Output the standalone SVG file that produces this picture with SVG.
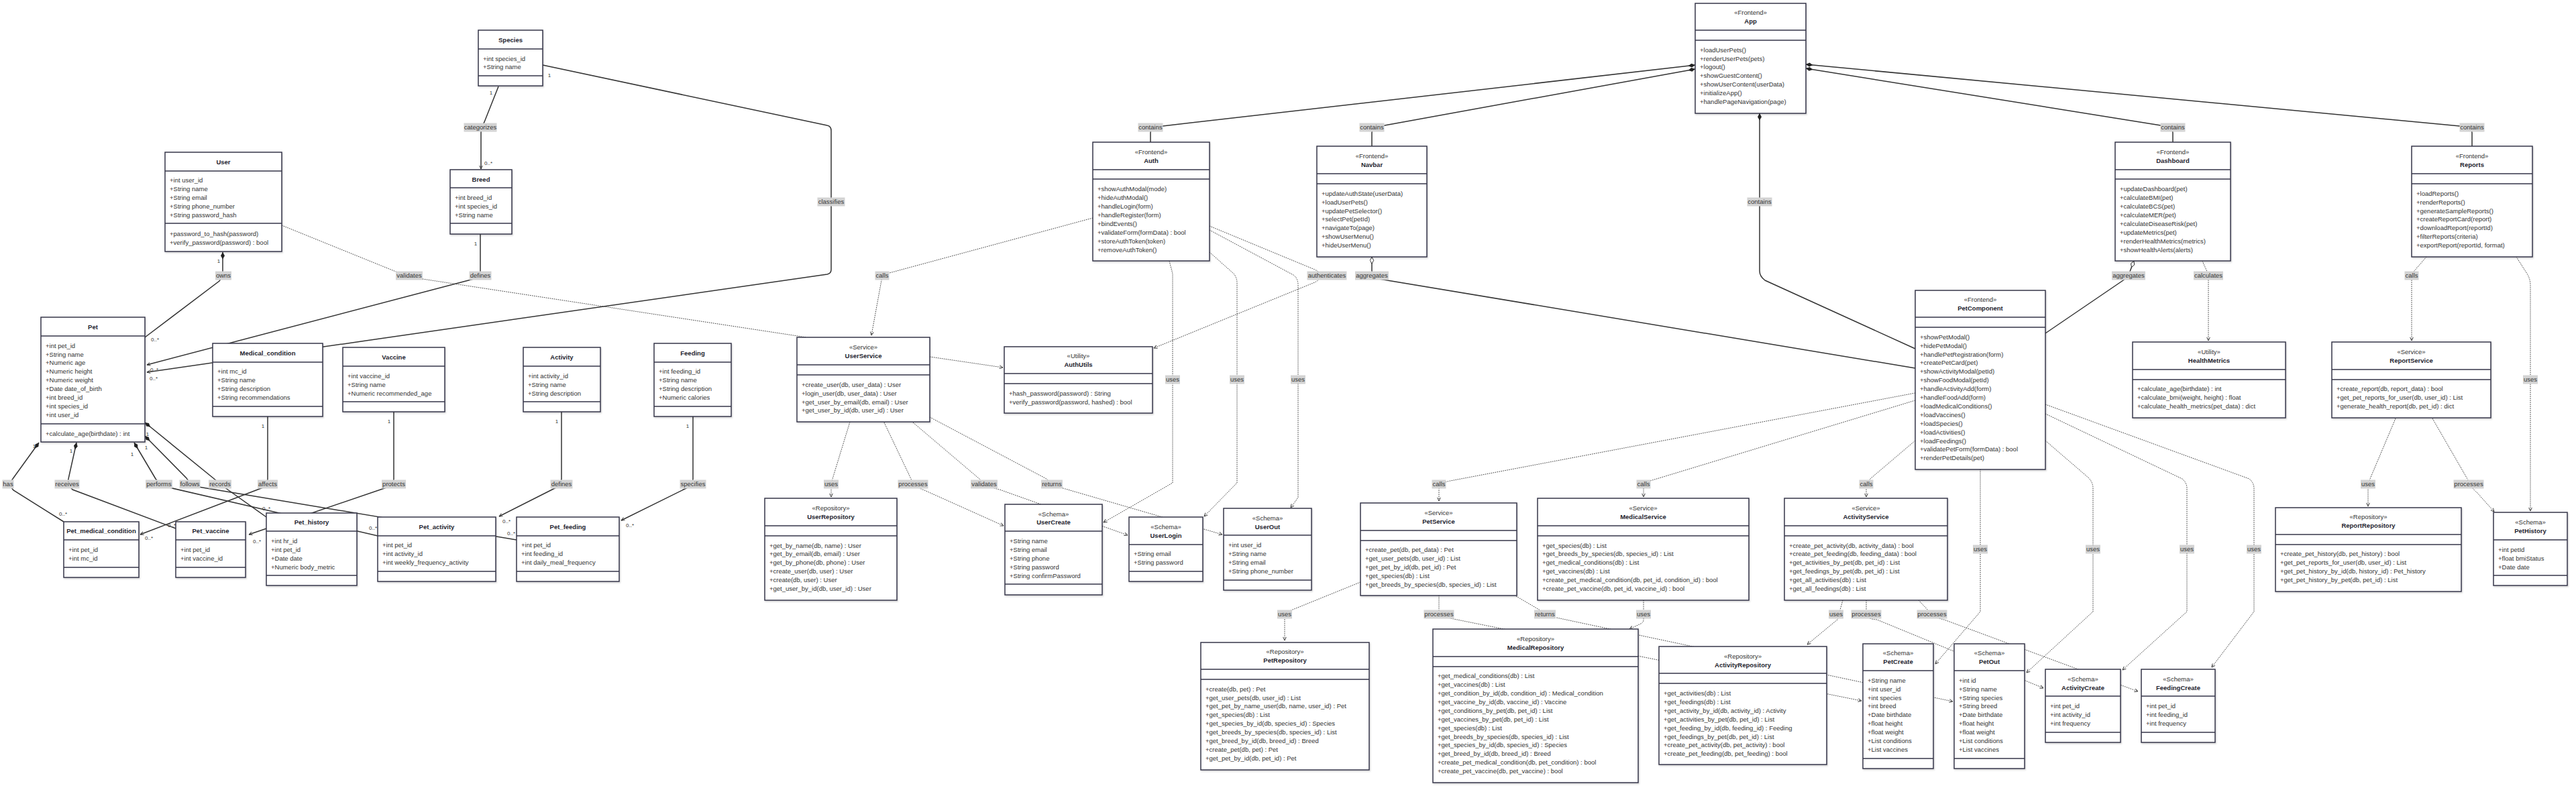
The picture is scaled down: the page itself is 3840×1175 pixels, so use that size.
<svg xmlns="http://www.w3.org/2000/svg" width="3840" height="1175" viewBox="0 0 3840 1175">
<style>
.bg{fill:#fff}
.box{fill:#fff;stroke:#36364a;stroke-width:1.5;filter:url(#sh)}
.dv{fill:none;stroke:#36364a;stroke-width:1.4}
.t{font-family:"Liberation Sans",Arial,sans-serif;font-size:9.5px;fill:#333}
.ti{font-weight:bold;text-anchor:middle;fill:#1e1e2e}
.st{text-anchor:middle}
.ln{fill:none;stroke:#333;stroke-width:1.5}
.dl{fill:none;stroke:#333;stroke-width:1;stroke-dasharray:1.5 1.5}
.lr{fill:#d3d3d3}
.lt{font-family:"Liberation Sans",Arial,sans-serif;font-size:9.5px;fill:#333;text-anchor:middle}
.m{font-family:"Liberation Sans",Arial,sans-serif;font-size:8px;fill:#333;text-anchor:middle}
</style>
<defs>
<filter id="sh" x="-5%" y="-5%" width="110%" height="110%"><feDropShadow dx="1" dy="1.5" stdDeviation="1" flood-color="#000" flood-opacity="0.18"/></filter>
<marker id="arr" viewBox="0 0 10 10" refX="9.5" refY="5" markerWidth="6" markerHeight="6" orient="auto" markerUnits="userSpaceOnUse"><path d="M1,1 L9.5,5 L1,9" fill="none" stroke="#333" stroke-width="1.5"/></marker>
<marker id="dia" viewBox="0 0 12 8" refX="0" refY="4" markerWidth="12" markerHeight="7" orient="auto" markerUnits="userSpaceOnUse"><path d="M0,4 L6,0.6 L12,4 L6,7.4 Z" fill="#222"/></marker>
<marker id="agg" viewBox="0 0 12 8" refX="0" refY="4" markerWidth="12" markerHeight="7" orient="auto" markerUnits="userSpaceOnUse"><path d="M0.5,4 L6,0.8 L11.5,4 L6,7.2 Z" fill="#fff" stroke="#222" stroke-width="1"/></marker>
</defs>
<rect class="bg" x="0" y="0" width="3840" height="1175"/>

<g id="connectors">
<path class="ln" d="M743,129 L722,182 Q717,190 717,198 L717,252" marker-end="url(#arr)"/>
<path class="ln" d="M809,97 L1233,187 Q1239,188 1239,195 L1239,402 Q1239,408 1233,409 L219,555" marker-end="url(#arr)"/>
<path class="ln" d="M716,349 L716,406 Q716,414 706,416 L219,544" marker-end="url(#arr)"/>
<path class="ln" d="M332,376 L332,404 Q332,412 327,419 L216,503" marker-start="url(#dia)"/>
<path class="ln" d="M58,660 L19,714 Q12,722 20,731 L95,778" marker-start="url(#dia)"/>
<path class="ln" d="M114,660 L102,714 Q100,722 108,730 L262,788" marker-start="url(#dia)"/>
<path class="ln" d="M200,660 L232,714 Q237,722 248,726 L563,799" marker-start="url(#dia)"/>
<path class="ln" d="M216,650 L278,713 Q283,722 296,726 L770,805" marker-start="url(#dia)"/>
<path class="ln" d="M216,630 L318,713 Q328,722 338,729 L397,771" marker-start="url(#dia)"/>
<path class="ln" d="M399,621 L399,714 Q399,722 392,727 L209,797" marker-end="url(#arr)"/>
<path class="ln" d="M587,614 L587,714 Q587,722 579,726 L371,797" marker-end="url(#arr)"/>
<path class="ln" d="M837,614 L837,714 Q837,722 829,727 L744,770" marker-end="url(#arr)"/>
<path class="ln" d="M1033,621 L1033,714 Q1033,722 1025,727 L926,776" marker-end="url(#arr)"/>
<path class="ln" d="M2527,97 L1733,188 Q1715,190 1715,198 L1715,212" marker-start="url(#dia)"/>
<path class="ln" d="M2527,103 L2064,187 Q2045,190 2045,198 L2045,218" marker-start="url(#dia)"/>
<path class="ln" d="M2692,102 L3221,187 Q3239,190 3239,198 L3239,212" marker-start="url(#dia)"/>
<path class="ln" d="M2692,96 L3667,188 Q3685,190 3685,198 L3685,218" marker-start="url(#dia)"/>
<path class="ln" d="M2623,169 L2623,404 Q2623,412 2631,418 L2855,520" marker-start="url(#dia)"/>
<path class="ln" d="M2045,383 L2045,404 Q2045,412 2056,416 L2855,549" marker-start="url(#agg)"/>
<path class="ln" d="M3181,389 L3175,405 Q3173,412 3165,418 L3049,497" marker-start="url(#agg)"/>
<path class="dl" d="M420,336 L595,407 Q610,414 630,416 L1202,503"/>
<path class="dl" d="M1629,325 L1322,408 Q1315,411 1314,418 L1299,500" marker-end="url(#arr)"/>
<path class="dl" d="M1803,337 L1960,402 Q1978,411 1960,421 L1720,519" marker-end="url(#arr)"/>
<path class="dl" d="M1803,343 L1928,410 Q1935,415 1935,425 L1935,742 L1924,757" marker-end="url(#arr)"/>
<path class="dl" d="M1803,376 L1839,408 Q1844,414 1844,422 L1844,720 L1795,770" marker-end="url(#arr)"/>
<path class="dl" d="M1743,389 L1748,408 L1748,720 L1645,779" marker-end="url(#arr)"/>
<path class="dl" d="M1386,532 L1495,548" marker-end="url(#arr)"/>
<path class="dl" d="M1267,629 L1241,714 Q1239,722 1239,728 L1239,741" marker-end="url(#arr)"/>
<path class="dl" d="M1318,630 L1358,714 Q1363,726 1378,731 L1496,784" marker-end="url(#arr)"/>
<path class="dl" d="M1361,630 L1460,714 Q1470,726 1490,730 L1681,798" marker-end="url(#arr)"/>
<path class="dl" d="M1386,622 L1560,714 Q1570,724 1588,729 L1822,797" marker-end="url(#arr)"/>
<path class="dl" d="M2855,586 L2162,717 Q2145,720 2145,730 L2145,747" marker-end="url(#arr)"/>
<path class="dl" d="M2855,597 L2463,716 Q2450,720 2450,728 L2450,741" marker-end="url(#arr)"/>
<path class="dl" d="M2855,657 L2789,713 Q2782,720 2782,728 L2782,741" marker-end="url(#arr)"/>
<path class="dl" d="M2952,700 L2952,912 L2885,990" marker-end="url(#arr)"/>
<path class="dl" d="M3049,657 L3114,713 Q3120,720 3120,728 L3120,912 L3021,1003" marker-end="url(#arr)"/>
<path class="dl" d="M3049,617 L3253,714 Q3260,720 3260,728 L3260,912 L3164,999" marker-end="url(#arr)"/>
<path class="dl" d="M3049,603 L3353,714 Q3360,720 3360,728 L3360,912 L3297,995" marker-end="url(#arr)"/>
<path class="dl" d="M3283,389 L3290,405 Q3292,411 3292,418 L3292,508" marker-end="url(#arr)"/>
<path class="dl" d="M3617,383 L3598,405 Q3595,411 3595,418 L3595,508" marker-end="url(#arr)"/>
<path class="dl" d="M3751,383 L3767,408 Q3772,416 3772,426 L3772,762" marker-end="url(#arr)"/>
<path class="dl" d="M3571,624 L3533,714 Q3530,722 3530,730 L3530,755" marker-end="url(#arr)"/>
<path class="dl" d="M3626,624 L3678,714 Q3684,728 3692,734 L3718,763" marker-end="url(#arr)"/>
<path class="dl" d="M2028,868 L1927,909 Q1915,914 1915,922 L1915,955" marker-end="url(#arr)"/>
<path class="dl" d="M2145,888 L2145,910 Q2145,919 2162,922 L2775,1045" marker-end="url(#arr)"/>
<path class="dl" d="M2260,889 L2296,910 Q2304,919 2320,921 L2911,1046" marker-end="url(#arr)"/>
<path class="dl" d="M2450,895 L2450,924 Q2450,928 2446,930 L2429,938" marker-end="url(#arr)"/>
<path class="dl" d="M2747,895 L2739,924 L2694,961" marker-end="url(#arr)"/>
<path class="dl" d="M2782,895 L2782,918 Q2784,923 2798,924 L3046,1026" marker-end="url(#arr)"/>
<path class="dl" d="M2860,895 L2876,912 Q2882,921 2898,924 L3187,1031" marker-end="url(#arr)"/>
</g>

<g id="n-species"><rect class="box" x="713" y="45" width="96" height="83"/><path class="dv" d="M713,73H809M713,113H809"/><text class="t ti" x="761" y="63.3">Species</text><text class="t" x="720" y="91.3">+int species_id</text><text class="t" x="720" y="103.3">+String name</text></g>

<g id="n-breed"><rect class="box" x="671" y="253" width="92" height="96"/><path class="dv" d="M671,280H763M671,333H763"/><text class="t ti" x="717" y="271.3">Breed</text><text class="t" x="678" y="298.3">+int breed_id</text><text class="t" x="678" y="311.3">+int species_id</text><text class="t" x="678" y="324.3">+String name</text></g>

<g id="n-user"><rect class="box" x="246" y="227" width="174" height="148"/><path class="dv" d="M246,255H420M246,333H420"/><text class="t ti" x="333" y="245.3">User</text><text class="t" x="253" y="272.3">+int user_id</text><text class="t" x="253" y="285.3">+String name</text><text class="t" x="253" y="298.3">+String email</text><text class="t" x="253" y="311.3">+String phone_number</text><text class="t" x="253" y="324.3">+String password_hash</text><text class="t" x="253" y="352.3">+password_to_hash(password)</text><text class="t" x="253" y="365.3">+verify_password(password) : bool</text></g>

<g id="n-pet"><rect class="box" x="61" y="473" width="155" height="186"/><path class="dv" d="M61,501H216M61,632H216"/><text class="t ti" x="138.5" y="491.3">Pet</text><text class="t" x="68" y="519.3">+int pet_id</text><text class="t" x="68" y="532.3">+String name</text><text class="t" x="68" y="544.3">+Numeric age</text><text class="t" x="68" y="557.3">+Numeric height</text><text class="t" x="68" y="570.3">+Numeric weight</text><text class="t" x="68" y="583.3">+Date date_of_birth</text><text class="t" x="68" y="596.3">+int breed_id</text><text class="t" x="68" y="609.3">+int species_id</text><text class="t" x="68" y="622.3">+int user_id</text><text class="t" x="68" y="650.3">+calculate_age(birthdate) : int</text></g>

<g id="n-medical-condition"><rect class="box" x="317" y="512" width="164" height="109"/><path class="dv" d="M317,540H481M317,606H481"/><text class="t ti" x="399" y="530.3">Medical_condition</text><text class="t" x="324" y="557.3">+int mc_id</text><text class="t" x="324" y="570.3">+String name</text><text class="t" x="324" y="583.3">+String description</text><text class="t" x="324" y="596.3">+String recommendations</text></g>

<g id="n-vaccine"><rect class="box" x="511" y="518" width="152" height="96"/><path class="dv" d="M511,546H663M511,599H663"/><text class="t ti" x="587" y="536.3">Vaccine</text><text class="t" x="518" y="564.3">+int vaccine_id</text><text class="t" x="518" y="577.3">+String name</text><text class="t" x="518" y="590.3">+Numeric recommended_age</text></g>

<g id="n-activity"><rect class="box" x="780" y="518" width="115" height="96"/><path class="dv" d="M780,546H895M780,599H895"/><text class="t ti" x="837.5" y="536.3">Activity</text><text class="t" x="787" y="564.3">+int activity_id</text><text class="t" x="787" y="577.3">+String name</text><text class="t" x="787" y="590.3">+String description</text></g>

<g id="n-feeding"><rect class="box" x="975" y="512" width="115" height="109"/><path class="dv" d="M975,540H1090M975,606H1090"/><text class="t ti" x="1032.5" y="530.3">Feeding</text><text class="t" x="982" y="557.3">+int feeding_id</text><text class="t" x="982" y="570.3">+String name</text><text class="t" x="982" y="583.3">+String description</text><text class="t" x="982" y="596.3">+Numeric calories</text></g>

<g id="n-pet-medical-condition"><rect class="box" x="95" y="778" width="112" height="83"/><path class="dv" d="M95,805H207M95,846H207"/><text class="t ti" x="151" y="795.3">Pet_medical_condition</text><text class="t" x="102" y="823.3">+int pet_id</text><text class="t" x="102" y="836.3">+int mc_id</text></g>

<g id="n-pet-vaccine"><rect class="box" x="262" y="778" width="104" height="83"/><path class="dv" d="M262,805H366M262,846H366"/><text class="t ti" x="314" y="795.3">Pet_vaccine</text><text class="t" x="269" y="823.3">+int pet_id</text><text class="t" x="269" y="836.3">+int vaccine_id</text></g>

<g id="n-pet-history"><rect class="box" x="397" y="765" width="135" height="108"/><path class="dv" d="M397,792H532M397,858H532"/><text class="t ti" x="464.5" y="782.3">Pet_history</text><text class="t" x="404" y="810.3">+int hr_id</text><text class="t" x="404" y="823.3">+int pet_id</text><text class="t" x="404" y="836.3">+Date date</text><text class="t" x="404" y="849.3">+Numeric body_metric</text></g>

<g id="n-pet-activity"><rect class="box" x="563" y="771" width="176" height="96"/><path class="dv" d="M563,799H739M563,852H739"/><text class="t ti" x="651" y="789.3">Pet_activity</text><text class="t" x="570" y="816.3">+int pet_id</text><text class="t" x="570" y="829.3">+int activity_id</text><text class="t" x="570" y="842.3">+int weekly_frequency_activity</text></g>

<g id="n-pet-feeding"><rect class="box" x="770" y="771" width="153" height="96"/><path class="dv" d="M770,799H923M770,852H923"/><text class="t ti" x="846.5" y="789.3">Pet_feeding</text><text class="t" x="777" y="816.3">+int pet_id</text><text class="t" x="777" y="829.3">+int feeding_id</text><text class="t" x="777" y="842.3">+int daily_meal_frequency</text></g>

<g id="n-app"><rect class="box" x="2527" y="5" width="165" height="164"/><path class="dv" d="M2527,45H2692M2527,60H2692"/><text class="t st" x="2609.5" y="22.3">«Frontend»</text><text class="t ti" x="2609.5" y="35.3">App</text><text class="t" x="2534" y="78.3">+loadUserPets()</text><text class="t" x="2534" y="91.3">+renderUserPets(pets)</text><text class="t" x="2534" y="103.3">+logout()</text><text class="t" x="2534" y="116.3">+showGuestContent()</text><text class="t" x="2534" y="129.3">+showUserContent(userData)</text><text class="t" x="2534" y="142.3">+initializeApp()</text><text class="t" x="2534" y="155.3">+handlePageNavigation(page)</text></g>

<g id="n-auth"><rect class="box" x="1629" y="212" width="174" height="177"/><path class="dv" d="M1629,253H1803M1629,267H1803"/><text class="t st" x="1716" y="230.3">«Frontend»</text><text class="t ti" x="1716" y="243.3">Auth</text><text class="t" x="1636" y="285.3">+showAuthModal(mode)</text><text class="t" x="1636" y="298.3">+hideAuthModal()</text><text class="t" x="1636" y="311.3">+handleLogin(form)</text><text class="t" x="1636" y="324.3">+handleRegister(form)</text><text class="t" x="1636" y="337.3">+bindEvents()</text><text class="t" x="1636" y="350.3">+validateForm(formData) : bool</text><text class="t" x="1636" y="363.3">+storeAuthToken(token)</text><text class="t" x="1636" y="376.3">+removeAuthToken()</text></g>

<g id="n-navbar"><rect class="box" x="1963" y="218" width="164" height="165"/><path class="dv" d="M1963,259H2127M1963,274H2127"/><text class="t st" x="2045" y="236.3">«Frontend»</text><text class="t ti" x="2045" y="249.3">Navbar</text><text class="t" x="1970" y="292.3">+updateAuthState(userData)</text><text class="t" x="1970" y="305.3">+loadUserPets()</text><text class="t" x="1970" y="318.3">+updatePetSelector()</text><text class="t" x="1970" y="330.3">+selectPet(petId)</text><text class="t" x="1970" y="343.3">+navigateTo(page)</text><text class="t" x="1970" y="356.3">+showUserMenu()</text><text class="t" x="1970" y="369.3">+hideUserMenu()</text></g>

<g id="n-dashboard"><rect class="box" x="3153" y="212" width="172" height="177"/><path class="dv" d="M3153,253H3325M3153,267H3325"/><text class="t st" x="3239" y="230.3">«Frontend»</text><text class="t ti" x="3239" y="243.3">Dashboard</text><text class="t" x="3160" y="285.3">+updateDashboard(pet)</text><text class="t" x="3160" y="298.3">+calculateBMI(pet)</text><text class="t" x="3160" y="311.3">+calculateBCS(pet)</text><text class="t" x="3160" y="324.3">+calculateMER(pet)</text><text class="t" x="3160" y="337.3">+calculateDiseaseRisk(pet)</text><text class="t" x="3160" y="350.3">+updateMetrics(pet)</text><text class="t" x="3160" y="363.3">+renderHealthMetrics(metrics)</text><text class="t" x="3160" y="376.3">+showHealthAlerts(alerts)</text></g>

<g id="n-reports"><rect class="box" x="3595" y="218" width="180" height="165"/><path class="dv" d="M3595,259H3775M3595,274H3775"/><text class="t st" x="3685" y="236.3">«Frontend»</text><text class="t ti" x="3685" y="249.3">Reports</text><text class="t" x="3602" y="292.3">+loadReports()</text><text class="t" x="3602" y="305.3">+renderReports()</text><text class="t" x="3602" y="318.3">+generateSampleReports()</text><text class="t" x="3602" y="330.3">+createReportCard(report)</text><text class="t" x="3602" y="343.3">+downloadReport(reportId)</text><text class="t" x="3602" y="356.3">+filterReports(criteria)</text><text class="t" x="3602" y="369.3">+exportReport(reportId, format)</text></g>

<g id="n-petcomponent"><rect class="box" x="2855" y="433" width="194" height="267"/><path class="dv" d="M2855,473H3049M2855,488H3049"/><text class="t st" x="2952" y="450.3">«Frontend»</text><text class="t ti" x="2952" y="463.3">PetComponent</text><text class="t" x="2862" y="506.3">+showPetModal()</text><text class="t" x="2862" y="519.3">+hidePetModal()</text><text class="t" x="2862" y="532.3">+handlePetRegistration(form)</text><text class="t" x="2862" y="544.3">+createPetCard(pet)</text><text class="t" x="2862" y="557.3">+showActivityModal(petId)</text><text class="t" x="2862" y="570.3">+showFoodModal(petId)</text><text class="t" x="2862" y="583.3">+handleActivityAdd(form)</text><text class="t" x="2862" y="596.3">+handleFoodAdd(form)</text><text class="t" x="2862" y="609.3">+loadMedicalConditions()</text><text class="t" x="2862" y="622.3">+loadVaccines()</text><text class="t" x="2862" y="635.3">+loadSpecies()</text><text class="t" x="2862" y="648.3">+loadActivities()</text><text class="t" x="2862" y="661.3">+loadFeedings()</text><text class="t" x="2862" y="673.3">+validatePetForm(formData) : bool</text><text class="t" x="2862" y="686.3">+renderPetDetails(pet)</text></g>

<g id="n-userservice"><rect class="box" x="1188" y="503" width="198" height="126"/><path class="dv" d="M1188,544H1386M1188,559H1386"/><text class="t st" x="1287" y="521.3">«Service»</text><text class="t ti" x="1287" y="534.3">UserService</text><text class="t" x="1195" y="577.3">+create_user(db, user_data) : User</text><text class="t" x="1195" y="590.3">+login_user(db, user_data) : User</text><text class="t" x="1195" y="603.3">+get_user_by_email(db, email) : User</text><text class="t" x="1195" y="615.3">+get_user_by_id(db, user_id) : User</text></g>

<g id="n-authutils"><rect class="box" x="1497" y="517" width="221" height="99"/><path class="dv" d="M1497,557H1718M1497,572H1718"/><text class="t st" x="1607.5" y="534.3">«Utility»</text><text class="t ti" x="1607.5" y="547.3">AuthUtils</text><text class="t" x="1504" y="590.3">+hash_password(password) : String</text><text class="t" x="1504" y="603.3">+verify_password(password, hashed) : bool</text></g>

<g id="n-userrepository"><rect class="box" x="1140" y="743" width="197" height="152"/><path class="dv" d="M1140,784H1337M1140,799H1337"/><text class="t st" x="1238.5" y="761.3">«Repository»</text><text class="t ti" x="1238.5" y="774.3">UserRepository</text><text class="t" x="1147" y="817.3">+get_by_name(db, name) : User</text><text class="t" x="1147" y="829.3">+get_by_email(db, email) : User</text><text class="t" x="1147" y="842.3">+get_by_phone(db, phone) : User</text><text class="t" x="1147" y="855.3">+create_user(db, user) : User</text><text class="t" x="1147" y="868.3">+create(db, user) : User</text><text class="t" x="1147" y="881.3">+get_user_by_id(db, user_id) : User</text></g>

<g id="n-usercreate"><rect class="box" x="1498" y="752" width="145" height="135"/><path class="dv" d="M1498,792H1643M1498,871H1643"/><text class="t st" x="1570.5" y="770.3">«Schema»</text><text class="t ti" x="1570.5" y="782.3">UserCreate</text><text class="t" x="1505" y="810.3">+String name</text><text class="t" x="1505" y="823.3">+String email</text><text class="t" x="1505" y="836.3">+String phone</text><text class="t" x="1505" y="849.3">+String password</text><text class="t" x="1505" y="862.3">+String confirmPassword</text></g>

<g id="n-userlogin"><rect class="box" x="1683" y="771" width="110" height="96"/><path class="dv" d="M1683,812H1793M1683,852H1793"/><text class="t st" x="1738" y="789.3">«Schema»</text><text class="t ti" x="1738" y="802.3">UserLogin</text><text class="t" x="1690" y="829.3">+String email</text><text class="t" x="1690" y="842.3">+String password</text></g>

<g id="n-userout"><rect class="box" x="1824" y="758" width="131" height="122"/><path class="dv" d="M1824,798H1955M1824,865H1955"/><text class="t st" x="1889.5" y="776.3">«Schema»</text><text class="t ti" x="1889.5" y="789.3">UserOut</text><text class="t" x="1831" y="816.3">+int user_id</text><text class="t" x="1831" y="829.3">+String name</text><text class="t" x="1831" y="842.3">+String email</text><text class="t" x="1831" y="855.3">+String phone_number</text></g>

<g id="n-petservice"><rect class="box" x="2028" y="750" width="233" height="138"/><path class="dv" d="M2028,791H2261M2028,806H2261"/><text class="t st" x="2144.5" y="768.3">«Service»</text><text class="t ti" x="2144.5" y="781.3">PetService</text><text class="t" x="2035" y="823.3">+create_pet(db, pet_data) : Pet</text><text class="t" x="2035" y="836.3">+get_user_pets(db, user_id) : List</text><text class="t" x="2035" y="849.3">+get_pet_by_id(db, pet_id) : Pet</text><text class="t" x="2035" y="862.3">+get_species(db) : List</text><text class="t" x="2035" y="875.3">+get_breeds_by_species(db, species_id) : List</text></g>

<g id="n-medicalservice"><rect class="box" x="2292" y="743" width="315" height="152"/><path class="dv" d="M2292,784H2607M2292,799H2607"/><text class="t st" x="2449.5" y="761.3">«Service»</text><text class="t ti" x="2449.5" y="774.3">MedicalService</text><text class="t" x="2299" y="817.3">+get_species(db) : List</text><text class="t" x="2299" y="829.3">+get_breeds_by_species(db, species_id) : List</text><text class="t" x="2299" y="842.3">+get_medical_conditions(db) : List</text><text class="t" x="2299" y="855.3">+get_vaccines(db) : List</text><text class="t" x="2299" y="868.3">+create_pet_medical_condition(db, pet_id, condition_id) : bool</text><text class="t" x="2299" y="881.3">+create_pet_vaccine(db, pet_id, vaccine_id) : bool</text></g>

<g id="n-activityservice"><rect class="box" x="2660" y="743" width="243" height="152"/><path class="dv" d="M2660,784H2903M2660,799H2903"/><text class="t st" x="2781.5" y="761.3">«Service»</text><text class="t ti" x="2781.5" y="774.3">ActivityService</text><text class="t" x="2667" y="817.3">+create_pet_activity(db, activity_data) : bool</text><text class="t" x="2667" y="829.3">+create_pet_feeding(db, feeding_data) : bool</text><text class="t" x="2667" y="842.3">+get_activities_by_pet(db, pet_id) : List</text><text class="t" x="2667" y="855.3">+get_feedings_by_pet(db, pet_id) : List</text><text class="t" x="2667" y="868.3">+get_all_activities(db) : List</text><text class="t" x="2667" y="881.3">+get_all_feedings(db) : List</text></g>

<g id="n-healthmetrics"><rect class="box" x="3179" y="510" width="228" height="113"/><path class="dv" d="M3179,551H3407M3179,566H3407"/><text class="t st" x="3293" y="528.3">«Utility»</text><text class="t ti" x="3293" y="541.3">HealthMetrics</text><text class="t" x="3186" y="583.3">+calculate_age(birthdate) : int</text><text class="t" x="3186" y="596.3">+calculate_bmi(weight, height) : float</text><text class="t" x="3186" y="609.3">+calculate_health_metrics(pet_data) : dict</text></g>

<g id="n-reportservice"><rect class="box" x="3476" y="510" width="237" height="113"/><path class="dv" d="M3476,551H3713M3476,566H3713"/><text class="t st" x="3594.5" y="528.3">«Service»</text><text class="t ti" x="3594.5" y="541.3">ReportService</text><text class="t" x="3483" y="583.3">+create_report(db, report_data) : bool</text><text class="t" x="3483" y="596.3">+get_pet_reports_for_user(db, user_id) : List</text><text class="t" x="3483" y="609.3">+generate_health_report(db, pet_id) : dict</text></g>

<g id="n-reportrepository"><rect class="box" x="3392" y="757" width="277" height="125"/><path class="dv" d="M3392,797H3669M3392,812H3669"/><text class="t st" x="3530.5" y="774.3">«Repository»</text><text class="t ti" x="3530.5" y="787.3">ReportRepository</text><text class="t" x="3399" y="829.3">+create_pet_history(db, pet_history) : bool</text><text class="t" x="3399" y="842.3">+get_pet_reports_for_user(db, user_id) : List</text><text class="t" x="3399" y="855.3">+get_pet_history_by_id(db, history_id) : Pet_history</text><text class="t" x="3399" y="868.3">+get_pet_history_by_pet(db, pet_id) : List</text></g>

<g id="n-pethistory"><rect class="box" x="3717" y="764" width="110" height="109"/><path class="dv" d="M3717,805H3827M3717,858H3827"/><text class="t st" x="3772" y="782.3">«Schema»</text><text class="t ti" x="3772" y="795.3">PetHistory</text><text class="t" x="3724" y="823.3">+int petId</text><text class="t" x="3724" y="836.3">+float bmiStatus</text><text class="t" x="3724" y="849.3">+Date date</text></g>

<g id="n-petrepository"><rect class="box" x="1790" y="958" width="251" height="190"/><path class="dv" d="M1790,998H2041M1790,1013H2041"/><text class="t st" x="1915.5" y="975.3">«Repository»</text><text class="t ti" x="1915.5" y="988.3">PetRepository</text><text class="t" x="1797" y="1031.3">+create(db, pet) : Pet</text><text class="t" x="1797" y="1044.3">+get_user_pets(db, user_id) : List</text><text class="t" x="1797" y="1056.3">+get_pet_by_name_user(db, name, user_id) : Pet</text><text class="t" x="1797" y="1069.3">+get_species(db) : List</text><text class="t" x="1797" y="1082.3">+get_species_by_id(db, species_id) : Species</text><text class="t" x="1797" y="1095.3">+get_breeds_by_species(db, species_id) : List</text><text class="t" x="1797" y="1108.3">+get_breed_by_id(db, breed_id) : Breed</text><text class="t" x="1797" y="1121.3">+create_pet(db, pet) : Pet</text><text class="t" x="1797" y="1134.3">+get_pet_by_id(db, pet_id) : Pet</text></g>

<g id="n-medicalrepository"><rect class="box" x="2136" y="938" width="306" height="229"/><path class="dv" d="M2136,979H2442M2136,994H2442"/><text class="t st" x="2289" y="956.3">«Repository»</text><text class="t ti" x="2289" y="969.3">MedicalRepository</text><text class="t" x="2143" y="1011.3">+get_medical_conditions(db) : List</text><text class="t" x="2143" y="1024.3">+get_vaccines(db) : List</text><text class="t" x="2143" y="1037.3">+get_condition_by_id(db, condition_id) : Medical_condition</text><text class="t" x="2143" y="1050.3">+get_vaccine_by_id(db, vaccine_id) : Vaccine</text><text class="t" x="2143" y="1063.3">+get_conditions_by_pet(db, pet_id) : List</text><text class="t" x="2143" y="1076.3">+get_vaccines_by_pet(db, pet_id) : List</text><text class="t" x="2143" y="1089.3">+get_species(db) : List</text><text class="t" x="2143" y="1102.3">+get_breeds_by_species(db, species_id) : List</text><text class="t" x="2143" y="1114.3">+get_species_by_id(db, species_id) : Species</text><text class="t" x="2143" y="1127.3">+get_breed_by_id(db, breed_id) : Breed</text><text class="t" x="2143" y="1140.3">+create_pet_medical_condition(db, pet_condition) : bool</text><text class="t" x="2143" y="1153.3">+create_pet_vaccine(db, pet_vaccine) : bool</text></g>

<g id="n-activityrepository"><rect class="box" x="2473" y="964" width="250" height="176"/><path class="dv" d="M2473,1004H2723M2473,1019H2723"/><text class="t st" x="2598" y="982.3">«Repository»</text><text class="t ti" x="2598" y="995.3">ActivityRepository</text><text class="t" x="2480" y="1037.3">+get_activities(db) : List</text><text class="t" x="2480" y="1050.3">+get_feedings(db) : List</text><text class="t" x="2480" y="1063.3">+get_activity_by_id(db, activity_id) : Activity</text><text class="t" x="2480" y="1076.3">+get_activities_by_pet(db, pet_id) : List</text><text class="t" x="2480" y="1089.3">+get_feeding_by_id(db, feeding_id) : Feeding</text><text class="t" x="2480" y="1102.3">+get_feedings_by_pet(db, pet_id) : List</text><text class="t" x="2480" y="1114.3">+create_pet_activity(db, pet_activity) : bool</text><text class="t" x="2480" y="1127.3">+create_pet_feeding(db, pet_feeding) : bool</text></g>

<g id="n-petcreate"><rect class="box" x="2777" y="960" width="105" height="186"/><path class="dv" d="M2777,1000H2882M2777,1131H2882"/><text class="t st" x="2829.5" y="977.3">«Schema»</text><text class="t ti" x="2829.5" y="990.3">PetCreate</text><text class="t" x="2784" y="1018.3">+String name</text><text class="t" x="2784" y="1031.3">+int user_id</text><text class="t" x="2784" y="1044.3">+int species</text><text class="t" x="2784" y="1056.3">+int breed</text><text class="t" x="2784" y="1069.3">+Date birthdate</text><text class="t" x="2784" y="1082.3">+float height</text><text class="t" x="2784" y="1095.3">+float weight</text><text class="t" x="2784" y="1108.3">+List conditions</text><text class="t" x="2784" y="1121.3">+List vaccines</text></g>

<g id="n-petout"><rect class="box" x="2913" y="960" width="105" height="186"/><path class="dv" d="M2913,1000H3018M2913,1131H3018"/><text class="t st" x="2965.5" y="977.3">«Schema»</text><text class="t ti" x="2965.5" y="990.3">PetOut</text><text class="t" x="2920" y="1018.3">+int id</text><text class="t" x="2920" y="1031.3">+String name</text><text class="t" x="2920" y="1044.3">+String species</text><text class="t" x="2920" y="1056.3">+String breed</text><text class="t" x="2920" y="1069.3">+Date birthdate</text><text class="t" x="2920" y="1082.3">+float height</text><text class="t" x="2920" y="1095.3">+float weight</text><text class="t" x="2920" y="1108.3">+List conditions</text><text class="t" x="2920" y="1121.3">+List vaccines</text></g>

<g id="n-activitycreate"><rect class="box" x="3049" y="998" width="112" height="109"/><path class="dv" d="M3049,1038H3161M3049,1092H3161"/><text class="t st" x="3105" y="1016.3">«Schema»</text><text class="t ti" x="3105" y="1029.3">ActivityCreate</text><text class="t" x="3056" y="1056.3">+int pet_id</text><text class="t" x="3056" y="1069.3">+int activity_id</text><text class="t" x="3056" y="1082.3">+int frequency</text></g>

<g id="n-feedingcreate"><rect class="box" x="3192" y="998" width="110" height="109"/><path class="dv" d="M3192,1038H3302M3192,1092H3302"/><text class="t st" x="3247" y="1016.3">«Schema»</text><text class="t ti" x="3247" y="1029.3">FeedingCreate</text><text class="t" x="3199" y="1056.3">+int pet_id</text><text class="t" x="3199" y="1069.3">+int feeding_id</text><text class="t" x="3199" y="1082.3">+int frequency</text></g>

<g id="edge-labels">
<rect class="lr" x="691.5" y="183.5" width="49" height="13"/><text class="lt" x="716" y="193.3">categorizes</text>
<rect class="lr" x="1218.5" y="294.5" width="41" height="13"/><text class="lt" x="1239" y="304.3">classifies</text>
<rect class="lr" x="699.5" y="404.5" width="33" height="13"/><text class="lt" x="716" y="414.3">defines</text>
<rect class="lr" x="321" y="404.5" width="24" height="13"/><text class="lt" x="333" y="414.3">owns</text>
<rect class="lr" x="590" y="404.5" width="40" height="13"/><text class="lt" x="610" y="414.3">validates</text>
<rect class="lr" x="3.5" y="715.5" width="17" height="13"/><text class="lt" x="12" y="725.3">has</text>
<rect class="lr" x="81.5" y="715.5" width="37" height="13"/><text class="lt" x="100" y="725.3">receives</text>
<rect class="lr" x="217" y="715.5" width="40" height="13"/><text class="lt" x="237" y="725.3">performs</text>
<rect class="lr" x="267.5" y="715.5" width="31" height="13"/><text class="lt" x="283" y="725.3">follows</text>
<rect class="lr" x="311" y="715.5" width="34" height="13"/><text class="lt" x="328" y="725.3">records</text>
<rect class="lr" x="384" y="715.5" width="30" height="13"/><text class="lt" x="399" y="725.3">affects</text>
<rect class="lr" x="569" y="715.5" width="36" height="13"/><text class="lt" x="587" y="725.3">protects</text>
<rect class="lr" x="820.5" y="715.5" width="33" height="13"/><text class="lt" x="837" y="725.3">defines</text>
<rect class="lr" x="1013.5" y="715.5" width="39" height="13"/><text class="lt" x="1033" y="725.3">specifies</text>
<rect class="lr" x="1696.5" y="183.5" width="37" height="13"/><text class="lt" x="1715" y="193.3">contains</text>
<rect class="lr" x="2026.5" y="183.5" width="37" height="13"/><text class="lt" x="2045" y="193.3">contains</text>
<rect class="lr" x="3220.5" y="183.5" width="37" height="13"/><text class="lt" x="3239" y="193.3">contains</text>
<rect class="lr" x="3666.5" y="183.5" width="37" height="13"/><text class="lt" x="3685" y="193.3">contains</text>
<rect class="lr" x="2604.5" y="294.5" width="37" height="13"/><text class="lt" x="2623" y="304.3">contains</text>
<rect class="lr" x="2020" y="404.5" width="50" height="13"/><text class="lt" x="2045" y="414.3">aggregates</text>
<rect class="lr" x="3148" y="404.5" width="50" height="13"/><text class="lt" x="3173" y="414.3">aggregates</text>
<rect class="lr" x="1948.5" y="404.5" width="59" height="13"/><text class="lt" x="1978" y="414.3">authenticates</text>
<rect class="lr" x="1304.5" y="404.5" width="21" height="13"/><text class="lt" x="1315" y="414.3">calls</text>
<rect class="lr" x="1737" y="559.5" width="22" height="13"/><text class="lt" x="1748" y="569.3">uses</text>
<rect class="lr" x="1833" y="559.5" width="22" height="13"/><text class="lt" x="1844" y="569.3">uses</text>
<rect class="lr" x="1924" y="559.5" width="22" height="13"/><text class="lt" x="1935" y="569.3">uses</text>
<rect class="lr" x="1228" y="715.5" width="22" height="13"/><text class="lt" x="1239" y="725.3">uses</text>
<rect class="lr" x="1338.5" y="715.5" width="45" height="13"/><text class="lt" x="1361" y="725.3">processes</text>
<rect class="lr" x="1447" y="715.5" width="40" height="13"/><text class="lt" x="1467" y="725.3">validates</text>
<rect class="lr" x="1552" y="715.5" width="32" height="13"/><text class="lt" x="1568" y="725.3">returns</text>
<rect class="lr" x="2134.5" y="715.5" width="21" height="13"/><text class="lt" x="2145" y="725.3">calls</text>
<rect class="lr" x="2439.5" y="715.5" width="21" height="13"/><text class="lt" x="2450" y="725.3">calls</text>
<rect class="lr" x="2771.5" y="715.5" width="21" height="13"/><text class="lt" x="2782" y="725.3">calls</text>
<rect class="lr" x="2941" y="812.5" width="22" height="13"/><text class="lt" x="2952" y="822.3">uses</text>
<rect class="lr" x="3109" y="812.5" width="22" height="13"/><text class="lt" x="3120" y="822.3">uses</text>
<rect class="lr" x="3249" y="812.5" width="22" height="13"/><text class="lt" x="3260" y="822.3">uses</text>
<rect class="lr" x="3349" y="812.5" width="22" height="13"/><text class="lt" x="3360" y="822.3">uses</text>
<rect class="lr" x="3270" y="404.5" width="44" height="13"/><text class="lt" x="3292" y="414.3">calculates</text>
<rect class="lr" x="3584.5" y="404.5" width="21" height="13"/><text class="lt" x="3595" y="414.3">calls</text>
<rect class="lr" x="3761" y="559.5" width="22" height="13"/><text class="lt" x="3772" y="569.3">uses</text>
<rect class="lr" x="3519" y="715.5" width="22" height="13"/><text class="lt" x="3530" y="725.3">uses</text>
<rect class="lr" x="3657.5" y="715.5" width="45" height="13"/><text class="lt" x="3680" y="725.3">processes</text>
<rect class="lr" x="1904" y="909.5" width="22" height="13"/><text class="lt" x="1915" y="919.3">uses</text>
<rect class="lr" x="2122.5" y="909.5" width="45" height="13"/><text class="lt" x="2145" y="919.3">processes</text>
<rect class="lr" x="2287" y="909.5" width="32" height="13"/><text class="lt" x="2303" y="919.3">returns</text>
<rect class="lr" x="2439" y="909.5" width="22" height="13"/><text class="lt" x="2450" y="919.3">uses</text>
<rect class="lr" x="2726" y="909.5" width="22" height="13"/><text class="lt" x="2737" y="919.3">uses</text>
<rect class="lr" x="2759.5" y="909.5" width="45" height="13"/><text class="lt" x="2782" y="919.3">processes</text>
<rect class="lr" x="2857.5" y="909.5" width="45" height="13"/><text class="lt" x="2880" y="919.3">processes</text>
</g>

<g id="multiplicities">
<text class="m" x="819" y="114.8">1</text>
<text class="m" x="732" y="140.8">1</text>
<text class="m" x="728" y="245.8">0..*</text>
<text class="m" x="709" y="365.8">1</text>
<text class="m" x="326" y="391.8">1</text>
<text class="m" x="231" y="508.8">0..*</text>
<text class="m" x="230" y="553.8">0..*</text>
<text class="m" x="229" y="566.8">0..*</text>
<text class="m" x="51" y="667.8">1</text>
<text class="m" x="106" y="674.8">1</text>
<text class="m" x="197" y="679.8">1</text>
<text class="m" x="220" y="649.8">1</text>
<text class="m" x="218" y="669.8">1</text>
<text class="m" x="94" y="768.8">0..*</text>
<text class="m" x="256" y="785.8">0..*</text>
<text class="m" x="397" y="760.8">0..*</text>
<text class="m" x="556" y="789.8">0..*</text>
<text class="m" x="762" y="797.8">0..*</text>
<text class="m" x="392" y="637.8">1</text>
<text class="m" x="222" y="804.8">0..*</text>
<text class="m" x="580" y="630.8">1</text>
<text class="m" x="383" y="809.8">0..*</text>
<text class="m" x="830" y="630.8">1</text>
<text class="m" x="755" y="779.8">0..*</text>
<text class="m" x="1025" y="637.8">1</text>
<text class="m" x="939" y="785.8">0..*</text>
</g>
</svg>
